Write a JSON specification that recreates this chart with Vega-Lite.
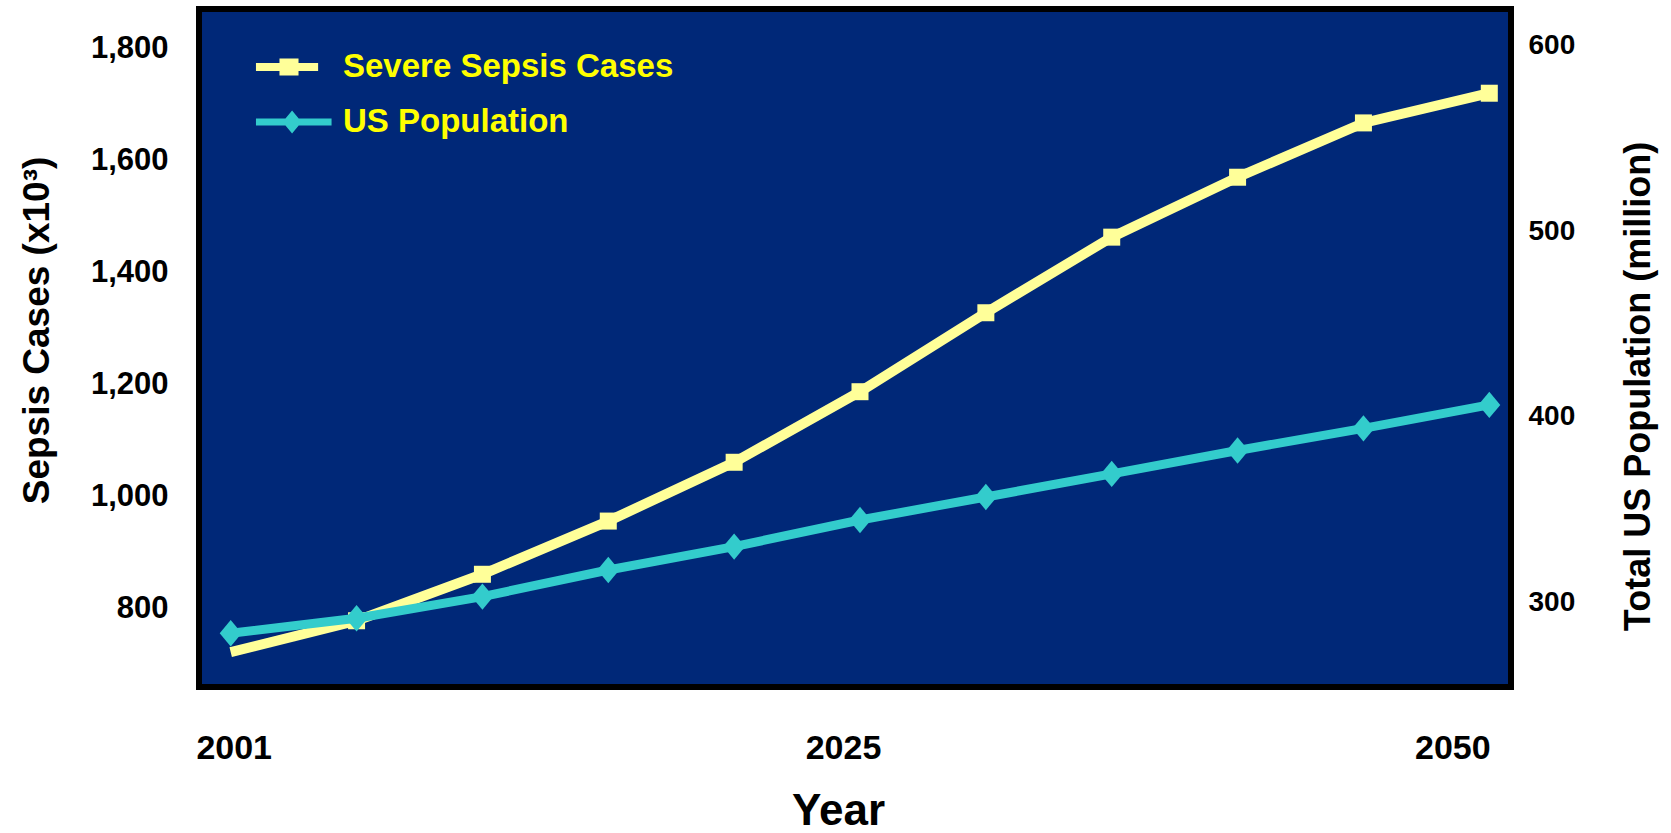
{
  "$schema": "https://vega.github.io/schema/vega-lite/v6.json",
  "width": 1312,
  "height": 678,
  "autosize": {"type": "none"},
  "padding": {"left": 199, "top": 9, "right": 160, "bottom": 146},
  "background": "#ffffff",
  "config": {
    "font": "Liberation Sans, Arial, sans-serif",
    "view": {"fill": "#002878", "stroke": "#000000", "strokeWidth": 6},
    "axis": {
      "labelFont": "Liberation Sans, Arial, sans-serif",
      "titleFont": "Liberation Sans, Arial, sans-serif",
      "labelFontWeight": "bold",
      "titleFontWeight": "bold",
      "labelColor": "#000000",
      "titleColor": "#000000",
      "grid": false,
      "ticks": false,
      "tickSize": 0,
      "domain": false
    }
  },
  "datasets": {
    "projection": [
      {"year": "2001", "sepsis": 723, "population": 283.7},
      {"year": "2005", "sepsis": 779, "population": 291.8},
      {"year": "2010", "sepsis": 862, "population": 303.4},
      {"year": "2015", "sepsis": 957, "population": 317.7},
      {"year": "2020", "sepsis": 1062, "population": 330.3},
      {"year": "2025", "sepsis": 1188, "population": 344.6},
      {"year": "2030", "sepsis": 1329, "population": 357.0},
      {"year": "2035", "sepsis": 1464, "population": 369.4},
      {"year": "2040", "sepsis": 1571, "population": 382.0},
      {"year": "2045", "sepsis": 1668, "population": 393.9},
      {"year": "2050", "sepsis": 1721, "population": 406.5}
    ],
    "series": [{"series": "Severe Sepsis Cases"}, {"series": "US Population"}]
  },
  "data": {"name": "projection"},
  "encoding": {
    "x": {
      "field": "year",
      "type": "ordinal",
      "sort": null,
      "scale": {"type": "point", "range": [31.7, 1290.3], "padding": 0},
      "axis": {
        "values": ["2001", "2025", "2050"],
        "labelAngle": 0,
        "labelFontSize": 34,
        "labelPadding": 61,
        "labelBaseline": "middle",
        "labelOffset": {"condition": [{"test": "datum.value == '2025'", "value": -17}, {"test": "datum.value == '2050'", "value": -37}], "value": 3},
        "title": "Year",
        "titleFontSize": 44,
        "titleX": 639,
        "titleY": 137,
        "titleBaseline": "alphabetic",
        "titleAlign": "center"
      }
    }
  },
  "layer": [
    {
      "encoding": {
        "y": {
          "field": "sepsis",
          "type": "quantitative",
          "scale": {"domain": [660.7, 1871.4], "nice": false, "zero": false},
          "axis": {
            "orient": "left",
            "values": [800, 1000, 1200, 1400, 1600, 1800],
            "format": ",.0f",
            "labelFontSize": 31,
            "labelPadding": 31,
            "title": "Sepsis Cases (x10³)",
            "titleFontSize": 37,
            "titleX": -162,
            "titleY": 321,
            "titleBaseline": "middle",
            "titleAlign": "center",
            "titleAngle": 270
          }
        }
      },
      "layer": [
        {"mark": {"type": "line", "color": "#FFFF99", "strokeWidth": 10, "strokeCap": "butt"}},
        {
          "transform": [{"filter": "datum.year != '2001'"}],
          "mark": {"type": "point", "shape": "square", "filled": true, "opacity": 1, "size": 289, "color": "#FFFF99"}
        }
      ]
    },
    {
      "encoding": {
        "y": {
          "field": "population",
          "type": "quantitative",
          "scale": {"domain": [254.8, 619.4], "nice": false, "zero": false},
          "axis": {
            "orient": "right",
            "values": [300, 400, 500, 600],
            "labelFontSize": 28,
            "labelPadding": 17,
            "title": "Total US Population (million)",
            "titleFontSize": 36,
            "titleX": 127,
            "titleY": 377,
            "titleBaseline": "middle",
            "titleAlign": "center",
            "titleAngle": 270
          }
        }
      },
      "layer": [
        {"mark": {"type": "line", "color": "#33CCCC", "strokeWidth": 9, "strokeCap": "butt"}},
        {"mark": {"type": "point", "shape": "M0,-1.2L1,0L0,1.2L-1,0Z", "filled": true, "opacity": 1, "size": 484, "color": "#33CCCC"}}
      ]
    },
    {
      "data": {"name": "series"},
      "transform": [{"filter": "datum.series == 'none'"}],
      "mark": {"type": "point", "filled": true, "opacity": 1},
      "encoding": {
        "color": {
          "field": "series",
          "type": "nominal",
          "scale": {"domain": ["Severe Sepsis Cases", "US Population"], "range": ["#FFFF99", "#33CCCC"]},
          "legend": {
            "orient": "none", "legendX": 62, "legendY": 30, "title": null, "padding": 0,
            "labelFont": "Liberation Sans, Arial, sans-serif",
            "labelFontSize": 33, "labelFontWeight": "bold", "labelColor": "#FFFF00", "labelLimit": 0,
            "symbolSize": 3136, "symbolStrokeWidth": 0, "labelOffset": 26, "rowPadding": 10
          }
        },
        "shape": {
          "field": "series",
          "type": "nominal",
          "scale": {"domain": ["Severe Sepsis Cases", "US Population"], "range": ["M-1.18,-0.14H1.04V0.14H-1.18Z M-0.34,-0.3H0.34V0.3H-0.34Z", "M-1.18,-0.125H1.52V0.125H-1.18Z M0.11,-0.41L0.45,0L0.11,0.41L-0.23,0Z"]},
          "legend": {
            "orient": "none", "legendX": 62, "legendY": 30, "title": null, "padding": 0,
            "labelFont": "Liberation Sans, Arial, sans-serif",
            "labelFontSize": 33, "labelFontWeight": "bold", "labelColor": "#FFFF00", "labelLimit": 0,
            "symbolSize": 3136, "symbolStrokeWidth": 0, "labelOffset": 26, "rowPadding": 10
          }
        }
      }
    }
  ],
  "resolve": {"scale": {"y": "independent"}}
}
